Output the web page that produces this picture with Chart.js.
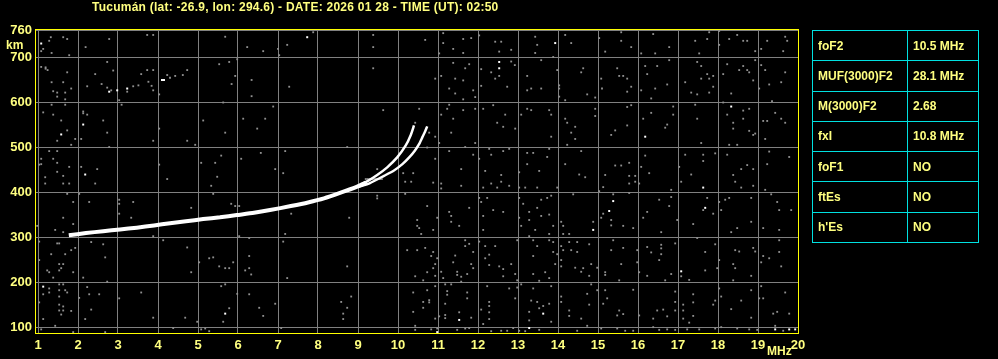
<!DOCTYPE html>
<html>
<head>
<meta charset="utf-8">
<script src="https://cdn.jsdelivr.net/npm/chart.js@4.4.1/dist/chart.umd.min.js"></script>
<style>
  body { margin: 0; background: #000; }
  #wrap { position: relative; width: 998px; height: 359px; overflow: hidden; background: #000; }
  .lbl { position: absolute; color: #ffff80; font: bold 12px "Liberation Sans", Arial, sans-serif; white-space: nowrap; line-height: 14px; }
  #title { letter-spacing: 0.25px; }
  #params { position: absolute; left: 812px; top: 30px; width: 166px; height: 213px; border-collapse: collapse; table-layout: fixed; }
  #params td { border: 1px solid #00e0e0; padding: 0 0 0 5px; color: #ffff80; font: bold 12px "Liberation Sans", Arial, sans-serif; height: 29px; }
</style>
</head>
<body>
<div id="wrap">
  <canvas id="ionogram" width="998" height="359"></canvas>
  <div class="lbl" id="title" style="left:92px;top:0px;"></div>
  <div class="lbl" style="left:6px;top:38px;">km</div>
  <div class="lbl" style="left:767px;top:344px;">MHz</div>
  <table id="params"><colgroup><col style="width:95px"><col style="width:71px"></colgroup><tbody></tbody></table>
</div>
<script>
const titleText = "Tucumán (lat: -26.9, lon: 294.6) - DATE: 2026 01 28 - TIME (UT): 02:50";

const freqTicks = [1, 2, 3, 4, 5, 6, 7, 8, 9, 10, 11, 12, 13, 14, 15, 16, 17, 18, 19, 20];
const heightTicks = [100, 200, 300, 400, 500, 600, 700, 760];

const paramNames = ["foF2", "MUF(3000)F2", "M(3000)F2", "fxI", "foF1", "ftEs", "h'Es"];
const paramValues = ["10.5 MHz", "28.1 MHz", "2.68", "10.8 MHz", "NO", "NO", "NO"];

// F2 echo trace (MHz, km)
const traceFreq = [1.77, 2.2, 2.63, 3.05, 3.47, 3.9, 4.3, 4.7, 5.13, 5.55, 5.97, 6.4, 6.8, 7.32, 7.75, 8.15, 8.55, 8.98, 9.2];
const traceHeight = [304, 309, 313, 317, 321, 326, 331, 335, 340, 344, 349, 354, 360, 369, 377, 386, 398, 412, 421];
const oFreq = [9.0, 9.25, 9.48, 9.73, 9.98, 10.19, 10.32, 10.4];
const oHeight = [413, 425, 438, 455, 477, 503, 527, 548];
const xFreq = [9.0, 9.3, 9.65, 9.9, 10.11, 10.28, 10.42, 10.53, 10.61, 10.68, 10.73];
const xHeight = [411, 420, 436, 448, 462, 477, 492, 507, 522, 535, 546];
const markFreq = [9.17, 9.62];
const markHeight = [429, 429];

const whiteDots = [[1.08,730],[2.78,623],[2.98,626],[3.23,630],[4.10,649],[4.15,649],[2.13,550],[1.58,528],[2.18,439],[7.73,744],[12.53,689],[12.53,675],[13.93,731],[16.18,523],[18.33,590],[1.13,190],[5.68,130],[11.53,116],[13.63,130],[13.28,98],[10.98,89],[15.38,380],[17.63,410],[17.68,365],[14.88,316],[15.28,358],[17.08,224],[19.43,95],[19.78,95],[19.93,95]];

const grayDots = [
[1.32,744],[1.28,736],[1.13,718],[1.08,713],[1.34,709],[1.63,744],[1.73,740],[1.78,704],[2.19,722],[2.78,740],[2.98,763],[3.73,749],[3.88,749],[5.68,745],[6.23,722],[6.63,713],[7.0,718],[7.23,727],[7.03,704],
[1.08,678],[1.19,677],[1.19,674],[1.24,671],[1.73,666],[1.34,644],[1.63,644],[1.83,630],[1.38,624],[1.48,621],[1.48,612],[1.68,621],[1.68,606],[2.73,689],[2.88,670],[2.43,662],[2.23,635],[2.59,640],[2.73,632],[2.83,626],[3.38,635],[3.51,637],[3.76,645],[3.84,636],[3.88,626],[3.58,662],[3.73,671],[3.88,671],[4.23,660],[4.30,654],[4.43,658],[4.62,660],[4.73,671],[3.23,623],[3.03,604],[3.09,594],[4.03,617],[5.53,684],[5.78,689],[5.93,658],[5.98,695],[6.34,649],[6.34,613],[5.84,640],[7.28,634],
[1.13,577],[1.38,572],[1.58,559],[1.34,594],[1.68,594],[2.13,579],[2.13,575],[2.23,572],[1.73,537],[1.93,518],[2.08,518],[1.83,505],[1.48,514],[2.63,559],[2.73,532],[2.78,500],[4.03,541],[3.88,514],[4.73,514],[4.93,505],[5.13,559],[5.63,599],[5.68,532],[6.13,563],[6.48,541],[6.68,563],[6.88,590],
[1.28,491],[1.48,491],[1.08,474],[1.08,462],[1.03,461],[1.38,474],[1.48,465],[1.78,456],[1.63,436],[1.48,445],[1.18,433],[2.08,456],[2.48,451],[4.03,461],[4.23,429],[5.08,465],[5.43,465],[5.58,481],[5.48,434],[6.08,474],[6.57,487],[6.93,451],[7.13,442],[7.18,491],
[7.88,755],[9.38,749],[9.38,722],[9.38,675],[10.68,738],[10.83,763],[11.03,708],[11.13,753],[11.13,731],[11.38,763],[11.63,740],[11.83,742],[12.03,748],[11.63,709],[11.38,718],[12.43,734],[12.58,734],[12.53,712],[12.83,716],[13.43,745],[13.48,727],[13.43,709],[11.38,687],[11.78,684],[11.68,675],[10.93,652],[11.08,658],[11.43,652],[11.63,648],[11.28,630],[11.43,619],[11.63,606],[11.88,626],[11.93,611],[12.08,636],[12.08,673],[12.33,666],[12.43,652],[12.53,658],[12.73,634],[12.83,690],[12.92,682],[13.23,658],[13.23,626],[13.33,630],[13.58,693],[13.58,630],
[9.63,582],[10.53,585],[10.43,554],[8.73,500],[10.78,532],[10.93,523],[11.08,572],[11.28,594],[11.23,585],[11.38,563],[11.63,582],[11.93,585],[12.13,585],[12.38,593],[12.48,554],[12.68,572],[12.63,545],[12.93,541],[13.08,572],[13.23,585],[13.33,582],[11.33,532],[11.03,509],[10.73,499],[11.28,491],[11.68,500],[11.88,483],[12.03,474],[12.28,496],[12.33,483],[12.63,491],[12.78,496],[13.23,487],[13.38,487],[13.53,447],[13.23,462],[13.03,444],[12.58,438],[12.18,447],[11.58,451],[10.93,474],[10.13,442],[10.38,442],[9.48,451],[11.93,509],
[14.18,749],[14.33,731],[15.03,742],[15.18,712],[15.58,755],[15.58,736],[15.83,722],[15.93,763],[16.08,708],[16.38,751],[16.43,708],[16.78,722],[17.18,763],[17.43,736],[17.53,708],[17.73,740],[17.78,755],[18.03,758],[18.03,727],[18.28,740],[18.48,749],[18.63,736],[18.73,736],[18.78,763],[18.93,713],[19.08,718],[19.23,736],[19.68,745],[19.73,736],[19.63,713],
[13.88,700],[13.98,671],[14.03,637],[14.03,630],[14.03,612],[14.18,604],[14.58,666],[14.63,675],[14.73,617],[14.93,610],[15.08,652],[15.1,630],[15.48,675],[15.53,658],[15.63,658],[15.73,652],[15.83,634],[15.73,623],[16.08,626],[16.18,680],[16.23,662],[16.48,680],[16.78,693],[16.33,608],[16.43,630],[16.73,639],[17.18,644],[17.33,621],[17.48,617],[17.48,689],[17.58,680],[17.58,652],[17.73,662],[17.78,652],[17.88,658],[17.88,634],[17.78,621],[18.13,662],[18.23,684],[18.33,619],[18.53,671],[18.63,680],[18.73,671],[18.78,666],[18.88,648],[18.93,693],[19.03,630],[19.08,682],[19.18,671],[19.28,639],[19.58,644],[19.68,666],
[13.78,582],[13.83,572],[14.18,563],[14.23,554],[14.43,545],[14.33,532],[14.43,518],[14.23,505],[13.83,523],[14.93,585],[14.93,569],[15.33,527],[15.43,537],[15.73,548],[15.73,589],[15.83,593],[16.13,563],[16.33,576],[16.68,543],[16.73,550],[16.88,590],[16.88,572],[17.43,594],[17.48,563],[17.58,509],[18.13,599],[18.23,572],[18.38,554],[18.38,541],[18.63,581],[18.63,563],[18.78,585],[18.78,536],[18.88,527],[18.93,530],[19.13,558],[19.23,558],[19.35,602],[19.43,576],[19.58,563],[19.68,554],[19.18,518],[18.28,505],[18.48,505],
[13.78,496],[13.73,478],[14.18,462],[14.53,439],[14.58,491],[14.68,433],[15.18,438],[15.43,459],[15.58,459],[15.78,465],[15.93,436],[16.08,456],[16.18,481],[16.28,442],[17.03,456],[17.18,483],[17.33,439],[17.63,483],[17.63,469],[17.93,486],[18.23,483],[18.58,451],[18.73,460],[18.88,451],[19.28,490],[19.23,462],[19.78,478],[18.38,438],[15.78,436],
[1.18,419],[1.78,419],[1.63,419],[2.43,419],[2.03,396],[1.88,378],[1.73,396],[2.28,378],[3.03,383],[3.03,374],[3.03,352],[3.38,378],[3.33,343],[1.63,343],[1.88,329],[1.43,316],[1.63,311],[0.98,325],[4.83,365],[5.33,414],[5.38,396],[5.83,374],[5.93,369],[6.03,369],[7.18,307],
[1.03,290],[1.48,286],[1.53,286],[1.93,276],[1.83,271],[1.33,262],[1.68,262],[1.03,249],[1.53,240],[1.63,240],[1.53,226],[1.58,231],[1.23,226],[1.28,222],[1.38,210],[1.88,222],[2.13,210],[2.33,289],[2.63,284],[2.68,255],[2.73,201],[3.88,302],[4.13,293],[4.73,277],[4.83,222],[5.03,244],[5.28,253],[5.38,255],[5.53,235],[5.68,231],[5.78,231],[5.88,244],[6.03,302],[6.28,298],[6.28,258],[6.18,226],[6.28,231],[6.33,217],[7.13,290],[7.23,209],
[1.28,186],[1.28,177],[1.53,195],[1.63,195],[1.53,182],[1.68,182],[1.73,177],[1.53,168],[1.53,150],[1.63,146],[1.53,137],[1.58,128],[1.63,137],[1.83,136],[1.03,155],[1.13,173],[1.13,118],[1.08,95],[1.43,103],[2.03,165],[2.23,189],[2.28,173],[2.53,173],[2.33,139],[2.18,118],[1.88,89],[2.68,89],[3.03,164],[3.58,177],[3.88,121],[4.38,98],[4.68,121],[4.98,112],[5.08,95],[5.18,97],[5.28,91],[5.58,191],[5.68,195],[5.78,142],[5.63,112],[5.98,174],[6.28,173],[6.53,143],[6.63,125],[6.93,152],[7.08,98],
[10.18,423],[10.33,423],[10.88,421],[11.08,419],[11.08,408],[11.58,414],[12.13,410],[12.33,419],[12.48,410],[12.58,423],[12.78,414],[13.03,410],[13.18,410],[13.48,410],[9.48,392],[9.48,386],[10.18,396],[10.73,369],[11.28,356],[11.33,347],[11.33,334],[11.53,325],[11.78,365],[12.03,387],[12.08,378],[12.13,347],[12.23,387],[12.38,360],[12.63,356],[13.03,387],[13.13,374],[13.28,356],[13.28,338],[13.48,365],[13.58,383],[13.58,347],[13.03,343],[13.08,325],[13.43,316],[13.28,302],[8.78,343],[10.48,338],[10.48,325],[10.53,320],[10.58,307],[10.88,316],[10.98,343],[12.13,316],[7.33,352],
[11.68,293],[11.78,285],[11.88,267],[11.68,280],[12.03,290],[12.18,280],[12.28,261],[12.18,253],[12.43,280],[12.53,235],[12.63,229],[12.83,240],[12.98,293],[13.38,293],[13.48,280],[13.38,258],[13.38,218],[13.53,203],[10.23,271],[10.48,271],[10.68,276],[10.83,258],[10.88,267],[10.98,253],[10.93,240],[10.88,231],[10.73,222],[10.93,214],[11.08,223],[11.13,209],[11.43,259],[11.38,244],[11.48,223],[11.48,216],[11.58,212],[11.58,201],[11.73,218],[11.83,240],[11.88,231],[12.28,238],[12.63,213],[12.93,218],[12.98,204],[10.43,213],[10.63,204],[8.73,235],
[8.58,156],[8.83,168],[8.73,143],[8.63,130],[8.63,118],[10.38,177],[10.73,182],[10.63,156],[10.78,160],[10.78,155],[10.63,143],[10.38,134],[10.93,191],[11.18,195],[11.23,180],[11.23,172],[11.33,195],[11.18,152],[11.18,127],[11.18,120],[11.03,124],[10.93,119],[11.53,133],[11.73,177],[11.73,164],[11.83,121],[12.08,139],[12.23,191],[12.28,156],[12.28,147],[12.28,133],[12.28,118],[12.13,107],[12.78,186],[12.98,188],[12.93,164],[13.08,195],[13.38,186],[13.33,159],[13.48,156],[13.53,142],[13.28,134],[13.28,115],[13.63,147],[10.43,103],[10.43,94],[10.83,95],[10.98,97],[11.48,94],[11.68,97],[11.78,98],[12.33,91],[12.58,92],[12.73,92],[12.88,98],[13.03,92],[13.18,91],[13.53,94],
[13.98,410],[14.38,395],[15.13,411],[15.03,402],[15.38,395],[15.78,419],[15.93,423],[15.78,398],[16.03,419],[16.83,405],[16.83,389],[16.53,383],[16.78,369],[17.08,423],[17.73,387],[17.63,360],[17.88,352],[18.03,378],[18.18,383],[18.28,387],[18.43,423],[18.58,410],[18.88,414],[18.83,387],[19.18,405],[19.33,395],[19.48,378],[19.83,360],[19.53,360],[13.78,350],[13.83,392],[13.73,387],[14.08,334],[14.13,325],[14.13,307],[13.88,325],[13.78,307],[14.28,307],[14.88,334],[15.13,352],[15.08,343],[15.33,338],[15.33,326],[15.63,325],[15.88,320],[16.13,343],[16.23,356],[16.58,311],[16.98,338],[17.38,329],[18.08,360],[18.33,311],[18.48,320],[18.83,334],[19.13,320],[19.53,316],
[13.78,293],[13.88,289],[13.88,267],[14.08,280],[14.13,271],[14.28,289],[14.48,289],[14.48,267],[14.33,271],[14.08,249],[14.08,235],[13.93,240],[13.98,262],[14.43,232],[14.63,231],[14.58,223],[14.78,214],[14.83,240],[14.98,232],[14.78,284],[15.18,222],[15.18,216],[15.38,293],[15.33,271],[15.63,276],[15.58,240],[15.53,204],[15.98,271],[15.98,244],[16.03,222],[16.23,278],[16.23,214],[16.33,266],[16.53,249],[16.58,283],[16.58,275],[16.58,262],[16.83,218],[16.68,204],[16.93,286],[17.08,213],[17.28,205],[17.48,298],[17.68,267],[17.68,226],[17.93,284],[17.98,231],[18.03,249],[18.43,271],[18.53,268],[18.38,240],[18.43,231],[18.38,204],[18.83,214],[18.88,276],[18.93,268],[19.08,244],[19.13,258],[19.28,253],[19.53,267],[19.58,235],[19.53,293],
[13.68,222],[13.78,209],[13.83,191],[14.08,168],[14.08,156],[13.78,152],[13.83,112],[14.28,137],[14.28,125],[14.58,119],[14.73,174],[14.78,150],[14.83,195],[14.98,182],[15.18,182],[15.23,164],[15.13,152],[15.53,137],[15.48,126],[15.63,129],[15.88,183],[16.03,126],[16.38,119],[16.48,137],[16.63,139],[16.73,124],[16.93,179],[16.93,156],[16.93,137],[17.13,150],[17.13,137],[17.13,119],[17.38,173],[17.38,155],[17.38,125],[17.28,110],[17.88,150],[17.93,159],[18.03,186],[18.08,168],[18.33,140],[18.58,159],[18.83,182],[18.83,121],[19.03,164],[19.08,191],[19.13,164],[19.38,130],[19.48,134],[19.68,177],[19.78,130],[14.48,92],[14.73,103],[15.08,97],[15.48,97],[15.68,92],[15.88,92],[16.38,100],[16.53,94],[16.73,95],[16.93,94],[17.23,95],[17.53,95],[17.93,97],[18.08,100],[18.48,97],[18.78,95],[18.98,94],[19.63,92],[19.43,103]
];

const textColor = "#ffff80";
const tickFont = { family: "'Liberation Sans', Arial, sans-serif", size: 13, weight: "bold" };

document.getElementById("title").textContent = titleText;
const tbody = document.querySelector("#params tbody");
paramNames.forEach((name, i) => {
  const tr = document.createElement("tr");
  const a = document.createElement("td");
  const b = document.createElement("td");
  a.textContent = name;
  b.textContent = paramValues[i];
  tr.appendChild(a);
  tr.appendChild(b);
  tbody.appendChild(tr);
});

const zip = (xs, ys) => xs.map((x, i) => ({ x, y: ys[i] }));
const toPoints = (arr) => arr.map(([x, y]) => ({ x, y }));

// yellow frame round the plot area
const frame = {
  id: "frame",
  afterDraw(chart) {
    const { ctx, chartArea: a } = chart;
    ctx.save();
    ctx.strokeStyle = "#ffff00";
    ctx.lineWidth = 1;
    ctx.strokeRect(a.left - 0.5, a.top - 0.5, a.right - a.left + 1, a.bottom - a.top + 1);
    ctx.restore();
  },
};

const lineSet = (data, width) => ({
  data,
  showLine: true,
  borderColor: "#ffffff",
  borderWidth: width,
  pointRadius: 0,
  tension: 0.2,
  borderCapStyle: "butt",
});

new Chart(document.getElementById("ionogram"), {
  type: "scatter",
  data: {
    datasets: [
      lineSet(zip(traceFreq, traceHeight), 4),
      lineSet(zip(oFreq, oHeight), 2.5),
      lineSet(zip(xFreq, xHeight), 2.5),
      lineSet(zip(markFreq, markHeight), 1),
      {
        data: toPoints(whiteDots),
        pointStyle: "rect",
        pointRadius: 1.4,
        pointBorderWidth: 0,
        pointBackgroundColor: "#ffffff",
      },
      {
        data: toPoints(grayDots),
        pointStyle: "rect",
        pointRadius: 1.3,
        pointBorderWidth: 0,
        pointBackgroundColor: "#909090",
      },
    ],
  },
  options: {
    responsive: false,
    animation: false,
    events: [],
    layout: { padding: { top: 30, right: 200, left: 0, bottom: 0 } },
    plugins: { legend: { display: false }, tooltip: { enabled: false }, title: { display: false } },
    scales: {
      x: {
        type: "linear",
        min: 0.95,
        max: 20,
        afterBuildTicks: (s) => { s.ticks = freqTicks.map((v) => ({ value: v })); },
        afterFit: (s) => { s.height = 26; },
        grid: { color: "#808080", lineWidth: 1, drawTicks: false },
        border: { display: false },
        ticks: { color: textColor, font: tickFont, padding: 5, autoSkip: false, maxRotation: 0 },
      },
      y: {
        type: "linear",
        min: 87,
        max: 760,
        afterBuildTicks: (s) => { s.ticks = heightTicks.map((v) => ({ value: v })); },
        afterFit: (s) => { s.width = 36; },
        grid: { color: "#808080", lineWidth: 1, drawTicks: false },
        border: { display: false },
        ticks: { color: textColor, font: tickFont, padding: 4, autoSkip: false },
      },
    },
  },
  plugins: [frame],
});
</script>
</body>
</html>
